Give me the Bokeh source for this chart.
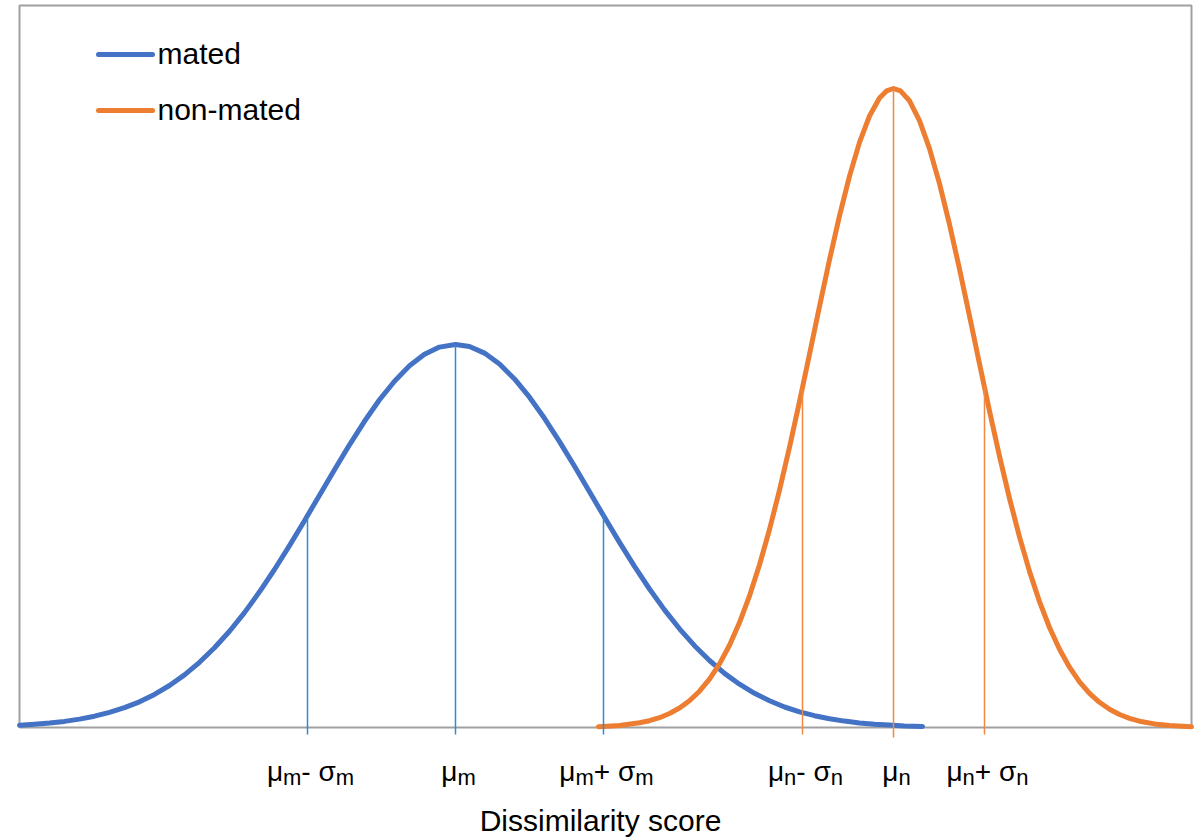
from bokeh.plotting import figure
from bokeh.models import ColumnDataSource, Range1d
from bokeh.core.properties import value
from bokeh.embed import file_html
from bokeh.resources import INLINE

# ---------------- data ----------------
# mated distribution (blue)
mated_x = [0.00, 0.15, 0.30, 0.45, 0.60, 0.75, 0.90, 1.05, 1.20, 1.35, 1.50, 1.65,
           1.80, 1.95, 2.10, 2.25, 2.40, 2.55, 2.70, 2.85, 3.00, 3.15, 3.30, 3.45,
           3.60, 3.75, 3.90, 4.05, 4.20, 4.36, 4.50, 4.65, 4.80, 4.95, 5.10, 5.25,
           5.40, 5.55, 5.70, 5.85, 6.00, 6.15, 6.30, 6.45, 6.60, 6.75, 6.90, 7.05,
           7.20, 7.35, 7.50, 7.65, 7.80, 7.95, 8.10, 8.25, 8.40, 8.55, 8.70, 8.85,
           9.03]
mated_y = [0.0022, 0.0032, 0.0044, 0.0061, 0.0084, 0.0113, 0.0151, 0.0198, 0.0257,
           0.0331, 0.0420, 0.0526, 0.0652, 0.0797, 0.0963, 0.1149, 0.1357, 0.1580,
           0.1818, 0.2068, 0.2323, 0.2578, 0.2827, 0.3062, 0.3277, 0.3463, 0.3617,
           0.3732, 0.3804, 0.3830, 0.3810, 0.3744, 0.3635, 0.3486, 0.3303, 0.3092,
           0.2859, 0.2612, 0.2357, 0.2102, 0.1851, 0.1611, 0.1385, 0.1176, 0.0987,
           0.0818, 0.0670, 0.0541, 0.0433, 0.0342, 0.0267, 0.0205, 0.0156, 0.0118,
           0.0087, 0.0064, 0.0046, 0.0033, 0.0024, 0.0016, 0.0011]

# non-mated distribution (orange)
nonmated_x = [5.79, 6.00, 6.20, 6.30, 6.40, 6.50, 6.60, 6.70, 6.80, 6.90, 7.00,
              7.10, 7.20, 7.30, 7.40, 7.50, 7.60, 7.70, 7.80, 7.90, 8.00, 8.10,
              8.20, 8.30, 8.40, 8.50, 8.60, 8.67, 8.74, 8.81, 8.90, 9.00, 9.10,
              9.20, 9.30, 9.40, 9.50, 9.60, 9.70, 9.80, 9.90, 10.00, 10.10, 10.20,
              10.30, 10.40, 10.50, 10.60, 10.70, 10.80, 10.90, 11.00, 11.10, 11.20,
              11.35, 11.50, 11.72]
nonmated_y = [0.0008, 0.0021, 0.0047, 0.0068, 0.0098, 0.0140, 0.0195, 0.0268,
              0.0363, 0.0484, 0.0636, 0.0823, 0.1049, 0.1316, 0.1627, 0.1980,
              0.2373, 0.2802, 0.3259, 0.3732, 0.4210, 0.4677, 0.5116, 0.5514,
              0.5851, 0.6115, 0.6295, 0.6366, 0.6390, 0.6366, 0.6267, 0.6069,
              0.5789, 0.5439, 0.5031, 0.4585, 0.4115, 0.3637, 0.3166, 0.2714,
              0.2292, 0.1906, 0.1561, 0.1259, 0.1000, 0.0783, 0.0603, 0.0457,
              0.0342, 0.0252, 0.0183, 0.0130, 0.0092, 0.0063, 0.0036, 0.0019,
              0.0007]

# marker lines: mu - sigma, mu, mu + sigma
mated_marks_x = [2.88, 4.36, 5.84]
mated_marks_top = [0.209, 0.383, 0.215]
nonmated_marks_x = [7.83, 8.74, 9.65]
nonmated_marks_top = [0.339, 0.639, 0.342]

# tick labels as (text, is_subscript) pieces
mated_labels = [
    [("μ", 0), ("m", 1), ("-", 0), (" ", 0), ("σ", 0), ("m", 1)],
    [("μ", 0), ("m", 1)],
    [("μ", 0), ("m", 1), ("+", 0), (" ", 0), ("σ", 0), ("m", 1)],
]
nonmated_labels = [
    [("μ", 0), ("n", 1), ("-", 0), (" ", 0), ("σ", 0), ("n", 1)],
    [("μ", 0), ("n", 1)],
    [("μ", 0), ("n", 1), ("+", 0), (" ", 0), ("σ", 0), ("n", 1)],
]
x_title = "Dissimilarity score"
series_names = ["mated", "non-mated"]

# ---------------- styling ----------------
BLUE = "#4472C4"
ORANGE = "#ED7D31"
BLUE_THIN = "#2E8AD6"
ORANGE_THIN = "#F08A42"
GREY = "#A0A0A0"
FONT = "Liberation Sans"
TITLE_SIZE = 30
MAIN_SIZE = 28
SUB_SIZE = 22
TXT_SHIFT = 0.011  # compensation for text baseline placement

p = figure(width=1198, height=837, output_backend="svg", toolbar_location=None,
           x_axis_location=None, y_axis_location=None,
           x_range=Range1d(-0.19, 11.79), y_range=Range1d(-0.110, 0.727),
           min_border=0, min_border_left=0, min_border_right=0,
           min_border_top=0, min_border_bottom=0)
p.grid.visible = False
p.outline_line_color = None
p.background_fill_color = "white"
p.border_fill_color = "white"

# box (plot area frame, bottom edge is the baseline)
p.line([0, 0, 11.72, 11.72, 0], [0, 0.722, 0.722, 0, 0], line_color=GREY, line_width=2)

# curves
p.line(mated_x, mated_y, line_color=BLUE, line_width=5, line_cap="round", line_join="round")
p.line(nonmated_x, nonmated_y, line_color=ORANGE, line_width=5, line_cap="round", line_join="round")

# vertical marker lines (extend a little below the baseline)
p.segment(x0=mated_marks_x, y0=[-0.007] * 3, x1=mated_marks_x, y1=mated_marks_top,
          line_color=BLUE_THIN, line_width=1.5)
p.segment(x0=nonmated_marks_x, y0=[-0.007, -0.010, -0.007], x1=nonmated_marks_x,
          y1=nonmated_marks_top, line_color=ORANGE_THIN, line_width=1.5)

# legend
p.segment(x0=[0.79, 0.79], y0=[0.673, 0.617], x1=[1.33, 1.33], y1=[0.673, 0.617],
          line_color=[BLUE, ORANGE], line_width=5, line_cap="round")
p.text(x=[1.38, 1.38], y=[0.663 + TXT_SHIFT, 0.607 + TXT_SHIFT], text=series_names,
       text_font=value(FONT), text_font_size=f"{TITLE_SIZE}px", text_color="black",
       text_baseline="alphabetic", text_align="left")

# tick labels with subscripts
W = {"μ": 0.576, "m": 0.833, "n": 0.556, "-": 0.333, "+": 0.584, " ": 0.278, "σ": 0.62}


def piece_width(txt, sub):
    size = SUB_SIZE if sub else MAIN_SIZE
    return sum(W.get(c, 0.55) for c in txt) * size


main = dict(x=[], y=[], text=[], dx=[])
subs = dict(x=[], y=[], text=[], dx=[])
for xs, labels in ((mated_marks_x, mated_labels), (nonmated_marks_x, nonmated_labels)):
    for xpos, pieces in zip(xs, labels):
        total = sum(piece_width(t, s) for t, s in pieces)
        cur = -total / 2 + 3
        for t, s in pieces:
            if t.strip():
                d = subs if s else main
                d["x"].append(xpos)
                d["y"].append((-0.061 if s else -0.055) + TXT_SHIFT)
                d["text"].append(t)
                d["dx"].append(cur)
            cur += piece_width(t, s)

p.text(x="x", y="y", text="text", x_offset="dx", source=ColumnDataSource(main),
       text_font=value(FONT), text_font_size=f"{MAIN_SIZE}px", text_color="black",
       text_baseline="alphabetic", text_align="left")
p.text(x="x", y="y", text="text", x_offset="dx", source=ColumnDataSource(subs),
       text_font=value(FONT), text_font_size=f"{SUB_SIZE}px", text_color="black",
       text_baseline="alphabetic", text_align="left")

# axis title
p.text(x=[5.81], y=[-0.104 + TXT_SHIFT], text=[x_title], text_font=value(FONT),
       text_font_size=f"{TITLE_SIZE}px", text_color="black", text_baseline="alphabetic",
       text_align="center")

open("out.html", "w").write(file_html(p, INLINE))
